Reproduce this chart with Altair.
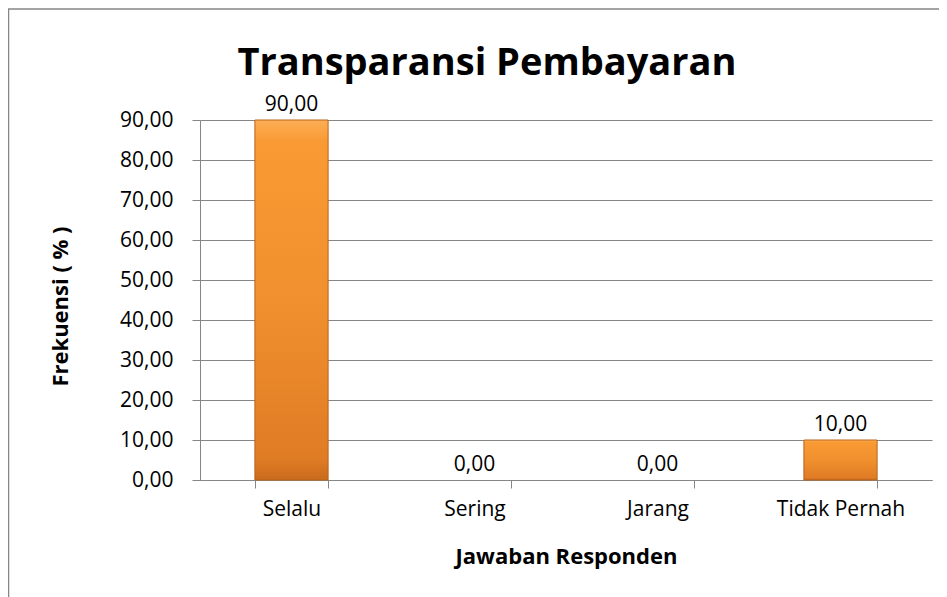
import altair as alt
import pandas as pd

categories = ["Selalu", "Sering", "Jarang", "Tidak Pernah"]
values = [90.0, 0.0, 0.0, 10.0]
y_ticks = [0, 10, 20, 30, 40, 50, 60, 70, 80, 90]
chart_title = ["Transparansi Pembayaran"]

df = pd.DataFrame({"Jawaban": categories, "Frekuensi": values})
title_df = pd.DataFrame({"t": chart_title})

FONT = "Open Sans"
GRAY = "#868686"

W, H = 732, 360
PAD = {"left": 192, "top": 112, "right": 7, "bottom": 117}

x_enc = alt.X(
    "Jawaban:N",
    sort=categories,
    scale=alt.Scale(domain=categories, paddingInner=0.6, paddingOuter=0.3),
    axis=alt.Axis(
        title="Jawaban Responden",
        labelAngle=0,
        labelFontSize=21,
        labelFont=FONT,
        labelColor="#000000",
        labelPadding=10,
        tickBand="extent",
        tickSize=8,
        tickColor=GRAY,
        domainColor=GRAY,
        grid=False,
        titleFont=FONT,
        titleFontSize=22,
        titleFontWeight="bold",
        titleColor="#000000",
        titleY=76,
        titleBaseline="middle",
    ),
)

y_enc = alt.Y(
    "Frekuensi:Q",
    scale=alt.Scale(domain=[0, 90], nice=False),
    axis=alt.Axis(
        title="Frekuensi ( % )",
        values=y_ticks,
        tickCount=10,
        labelOverlap=False,
        labelExpr="replace(format(datum.value, '.2f'), '.', ',')",
        labelFontSize=21,
        labelFont=FONT,
        labelColor="#000000",
        labelPadding=19,
        tickSize=8,
        tickColor=GRAY,
        domainColor=GRAY,
        gridColor=GRAY,
        titleFont=FONT,
        titleFontSize=22,
        titleFontWeight="bold",
        titleColor="#000000",
        titleAngle=270,
        titleX=-140,
        titleY=186,
        titleAlign="center",
        titleBaseline="middle",
    ),
)

gradient = alt.Gradient(
    gradient="linear",
    x1=0, y1=0, x2=0, y2=1,
    stops=[
        alt.GradientStop(color="#FCAE55", offset=0),
        alt.GradientStop(color="#F99A34", offset=0.06),
        alt.GradientStop(color="#F0902E", offset=0.5),
        alt.GradientStop(color="#E07C25", offset=0.94),
        alt.GradientStop(color="#C96A1C", offset=1),
    ],
)

base = alt.Chart(df).encode(x=x_enc, y=y_enc)

bars = base.transform_filter("datum.Frekuensi > 0").mark_bar(
    fill=gradient, stroke="#B8641C", strokeWidth=1
)

labels = base.transform_calculate(
    label="replace(format(datum.Frekuensi, '.2f'), '.', ',')"
).mark_text(
    baseline="bottom", dy=-5, fontSize=21, font=FONT, color="#000000"
).encode(text="label:N")

title_mark = alt.Chart(title_df).mark_text(
    font=FONT, fontSize=38, fontWeight="bold", color="#000000",
    align="center", baseline="alphabetic"
).encode(x=alt.value(287), y=alt.value(-45), text="t:N")

frame_top = alt.Chart(title_df).mark_rule(color=GRAY, strokeWidth=1.5).encode(
    x=alt.value(-PAD["left"]), x2=alt.value(W + PAD["right"]), y=alt.value(-PAD["top"] + 1)
)
frame_left = alt.Chart(title_df).mark_rule(color=GRAY, strokeWidth=1.5).encode(
    x=alt.value(-PAD["left"] + 0.5), y=alt.value(-PAD["top"] + 1), y2=alt.value(H + PAD["bottom"])
)

chart = alt.layer(bars, labels, title_mark, frame_top, frame_left).properties(
    width=W,
    height=H,
    padding=PAD,
    autosize=alt.AutoSizeParams(type="none"),
).configure_view(stroke=None)

chart.save("out.html", embed_options={"renderer": "svg", "actions": False})
